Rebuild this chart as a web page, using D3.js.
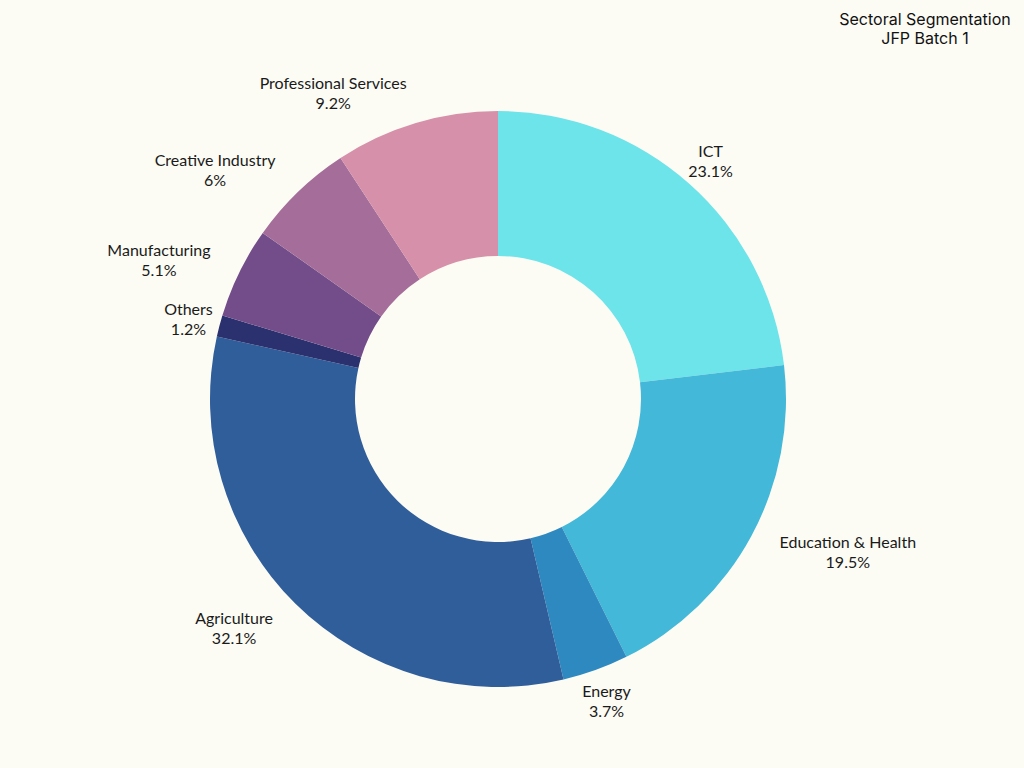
<!DOCTYPE html>
<html>
<head>
<meta charset="utf-8">
<script src="https://cdn.jsdelivr.net/npm/d3@7"></script>
<style>
  html, body { margin: 0; padding: 0; background: #fcfcf4; }
  svg { display: block; }
</style>
</head>
<body>
<svg id="chart" width="1024" height="768"></svg>
<script>
const categories = ["ICT", "Education & Health", "Energy", "Agriculture", "Others", "Manufacturing", "Creative Industry", "Professional Services"];
const values = [23.1, 19.5, 3.7, 32.1, 1.2, 5.1, 6, 9.2];
const valueLabels = ["23.1%", "19.5%", "3.7%", "32.1%", "1.2%", "5.1%", "6%", "9.2%"];
const colors = ["#6ce4ea", "#43b8d8", "#2e89c0", "#2f5e9b", "#2b306f", "#734d8a", "#a56d99", "#d690aa"];
const titleLines = ["Sectoral Segmentation", "JFP Batch 1"];

const W = 1024, H = 768;
const cx = 498, cy = 399;
const outerR = 288, innerR = 143, labelR = 320;

const svg = d3.select("#chart");
svg.append("rect").attr("width", W).attr("height", H).attr("fill", "#fcfcf4");

const data = categories.map((c, i) => ({ name: c, value: values[i], label: valueLabels[i], color: colors[i] }));

const pie = d3.pie().value(d => d.value).sort(null);
const arc = d3.arc().innerRadius(innerR).outerRadius(outerR);
const arcs = pie(data);

const g = svg.append("g").attr("transform", `translate(${cx},${cy})`);
g.selectAll("path.slice")
  .data(arcs)
  .join("path")
  .attr("class", "slice")
  .attr("d", arc)
  .attr("fill", d => d.data.color);

const labelFont = "Lato, 'Open Sans', sans-serif";
const lg = g.selectAll("g.label")
  .data(arcs)
  .join("g")
  .attr("class", "label");

lg.each(function(d) {
  const sel = d3.select(this);
  const t = sel.append("text")
    .attr("text-anchor", "middle")
    .attr("font-family", labelFont)
    .attr("font-size", 16)
    .attr("fill", "#1a1a1a");
  t.append("tspan").attr("x", 0).attr("y", -3).text(d.data.name);
  t.append("tspan").attr("x", 0).attr("y", 17).text(d.data.label);
  const bw = t.node().getBBox().width;
  const hw = bw / 2;
  const mid = (d.startAngle + d.endAngle) / 2;
  const s = Math.sin(mid), c = Math.cos(mid);
  const off = hw > 30 ? Math.sign(s) * hw : 0;
  const x = labelR * s + off;
  const y = -labelR * c;
  sel.attr("transform", `translate(${x},${y})`);
});

const title = svg.append("text")
  .attr("text-anchor", "middle")
  .attr("font-family", "Inter, 'Open Sans', sans-serif")
  .attr("font-size", 16)
  .attr("fill", "#111");
titleLines.forEach((line, i) => {
  title.append("tspan").attr("x", 925).attr("y", 25 + i * 19).text(line);
});
</script>
</body>
</html>
